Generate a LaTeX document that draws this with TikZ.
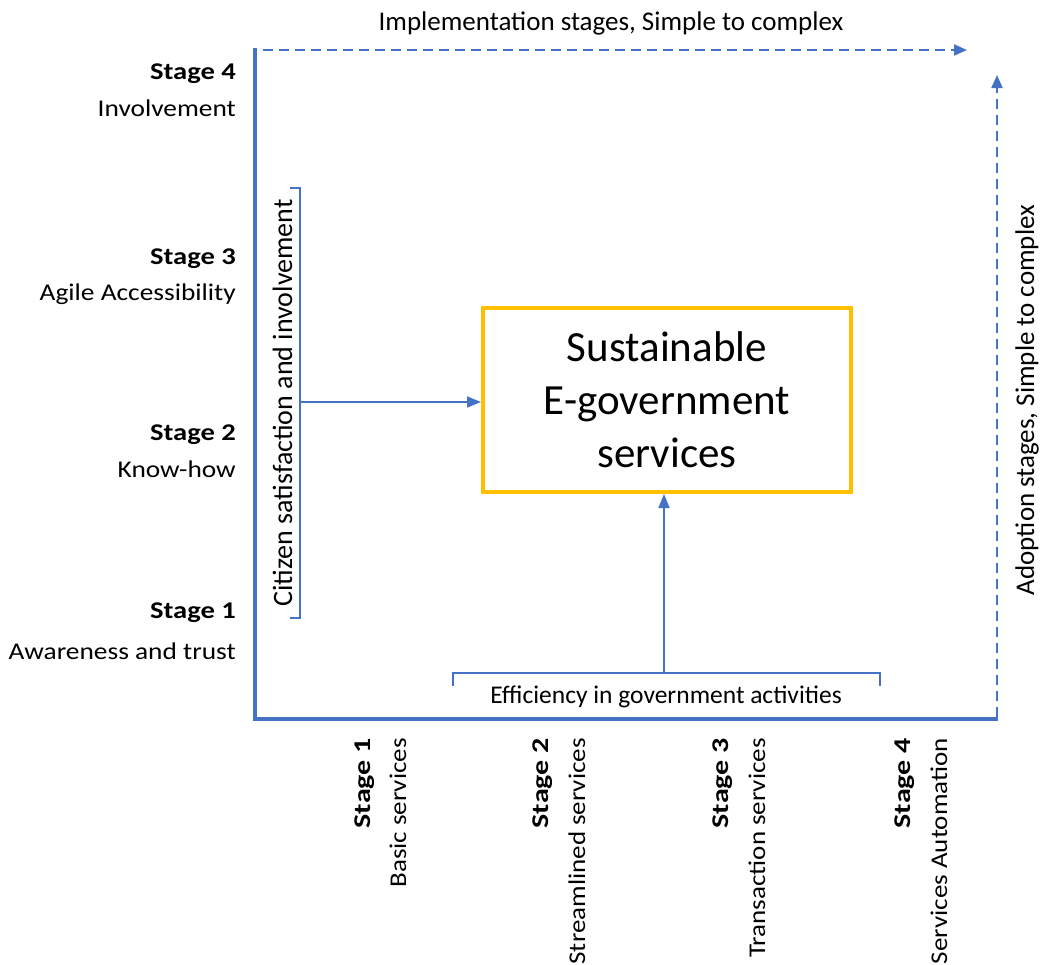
\documentclass[tikz,border=0pt]{standalone}
\usepackage{fontspec}
\setmainfont{Carlito}
\usetikzlibrary{arrows.meta}
\definecolor{axblue}{HTML}{4472C4}
\definecolor{boxgold}{HTML}{FFC000}
\newcommand\stretchtxt[2][1.14]{\scalebox{#1}[1]{#2}}
\tikzset{
  axisline/.style={draw=axblue, line width=4pt, line join=miter},
  dashax/.style={draw=axblue, line width=2pt, dash pattern=on 10pt off 6pt, -{Triangle[length=13pt,width=11pt]}},
  conn/.style={draw=axblue, line width=1.6pt, -{Triangle[length=14pt,width=11pt]}},
  brack/.style={draw=axblue, line width=1.6pt},
  stagelab/.style={font=\fontsize{24}{28}\selectfont\bfseries, inner sep=0pt, anchor=base east},
  sublab/.style={font=\fontsize{24}{28}\selectfont, inner sep=0pt, anchor=base east},
  axlab/.style={font=\fontsize{27}{32}\selectfont, inner sep=0pt},
  mainbox/.style={draw=boxgold, line width=4pt, minimum width=368pt, minimum height=184pt, inner sep=0pt, align=center, font=\fontsize{43}{53}\selectfont}
}
\begin{document}
\begin{tikzpicture}[x=1pt,y=-1pt]
\useasboundingbox[fill=white] (0,0) rectangle (1040,964);
% axes
\coordinate (ytop) at (255,48);
\coordinate (orig) at (255,719);
\coordinate (xend) at (998,719);
\draw[axisline] (ytop) -- (orig) -- (xend);
\coordinate (tstart) at (263,50);
\coordinate (tend) at (967,50);
\draw[dashax] (tstart) -- (tend);
\coordinate (rstart) at (997,717);
\coordinate (rend) at (997,75);
\draw[dashax] (rstart) -- (rend);
\node[axlab, anchor=base] (toplabel) at (611,30) {Implementation stages, Simple to complex};
\node[axlab, anchor=base, rotate=90] (rightlabel) at (1034,400) {Adoption stages, Simple to complex};
% left stage labels
\node[stagelab] (ls4) at (236,79) {\stretchtxt[1.19]{Stage 4}};
\node[sublab] (li4) at (236,116) {\stretchtxt{Involvement}};
\node[stagelab] (ls3) at (236,264) {\stretchtxt[1.19]{Stage 3}};
\node[sublab] (li3) at (236,300) {\stretchtxt{Agile Accessibility}};
\node[stagelab] (ls2) at (236,440) {\stretchtxt[1.19]{Stage 2}};
\node[sublab] (li2) at (236,477) {\stretchtxt{Know-how}};
\node[stagelab] (ls1) at (236,618) {\stretchtxt[1.19]{Stage 1}};
\node[sublab] (li1) at (236,659) {\stretchtxt{Awareness and trust}};
% bottom stage labels
\node[stagelab, rotate=90] (bs1) at (370,738) {\stretchtxt[1.25]{Stage 1}};
\node[sublab, rotate=90] (bi1) at (406,738) {\stretchtxt[1.125]{Basic services}};
\node[stagelab, rotate=90] (bs2) at (548,738) {\stretchtxt[1.25]{Stage 2}};
\node[sublab, rotate=90] (bi2) at (585,738) {\stretchtxt[1.125]{Streamlined services}};
\node[stagelab, rotate=90] (bs3) at (728,738) {\stretchtxt[1.25]{Stage 3}};
\node[sublab, rotate=90] (bi3) at (765,738) {\stretchtxt[1.125]{Transaction services}};
\node[stagelab, rotate=90] (bs4) at (910,738) {\stretchtxt[1.25]{Stage 4}};
\node[sublab, rotate=90] (bi4) at (947,738) {\stretchtxt[1.125]{Services Automation}};
% central box
\node[mainbox] (box) at (667,400) {Sustainable\\E-government\\services};
% citizen bracket
\coordinate (cbt) at (290,188);
\coordinate (cbb) at (290,618);
\draw[brack] (cbt) -- ++(10,0) -- ++(0,430) -- (cbb);
\coordinate (cbm) at (300,402);
\draw[conn] (cbm) -- (cbm -| box.west);
\node[axlab, font=\fontsize{28}{33}\selectfont, anchor=base, rotate=90] (citlabel) at (292,403) {Citizen satisfaction and involvement};
% efficiency bracket
\coordinate (ebl) at (453,686);
\coordinate (ebr) at (880,686);
\draw[brack] (ebl) -- ++(0,-13) -- ++(427,0) -- (ebr);
\coordinate (ebm) at (664,673);
\draw[conn] (ebm) -- (ebm |- box.south);
\node[axlab, font=\fontsize{25.5}{30}\selectfont, anchor=base] (efflabel) at (666,703) {Efficiency in government activities};
\end{tikzpicture}
\end{document}
